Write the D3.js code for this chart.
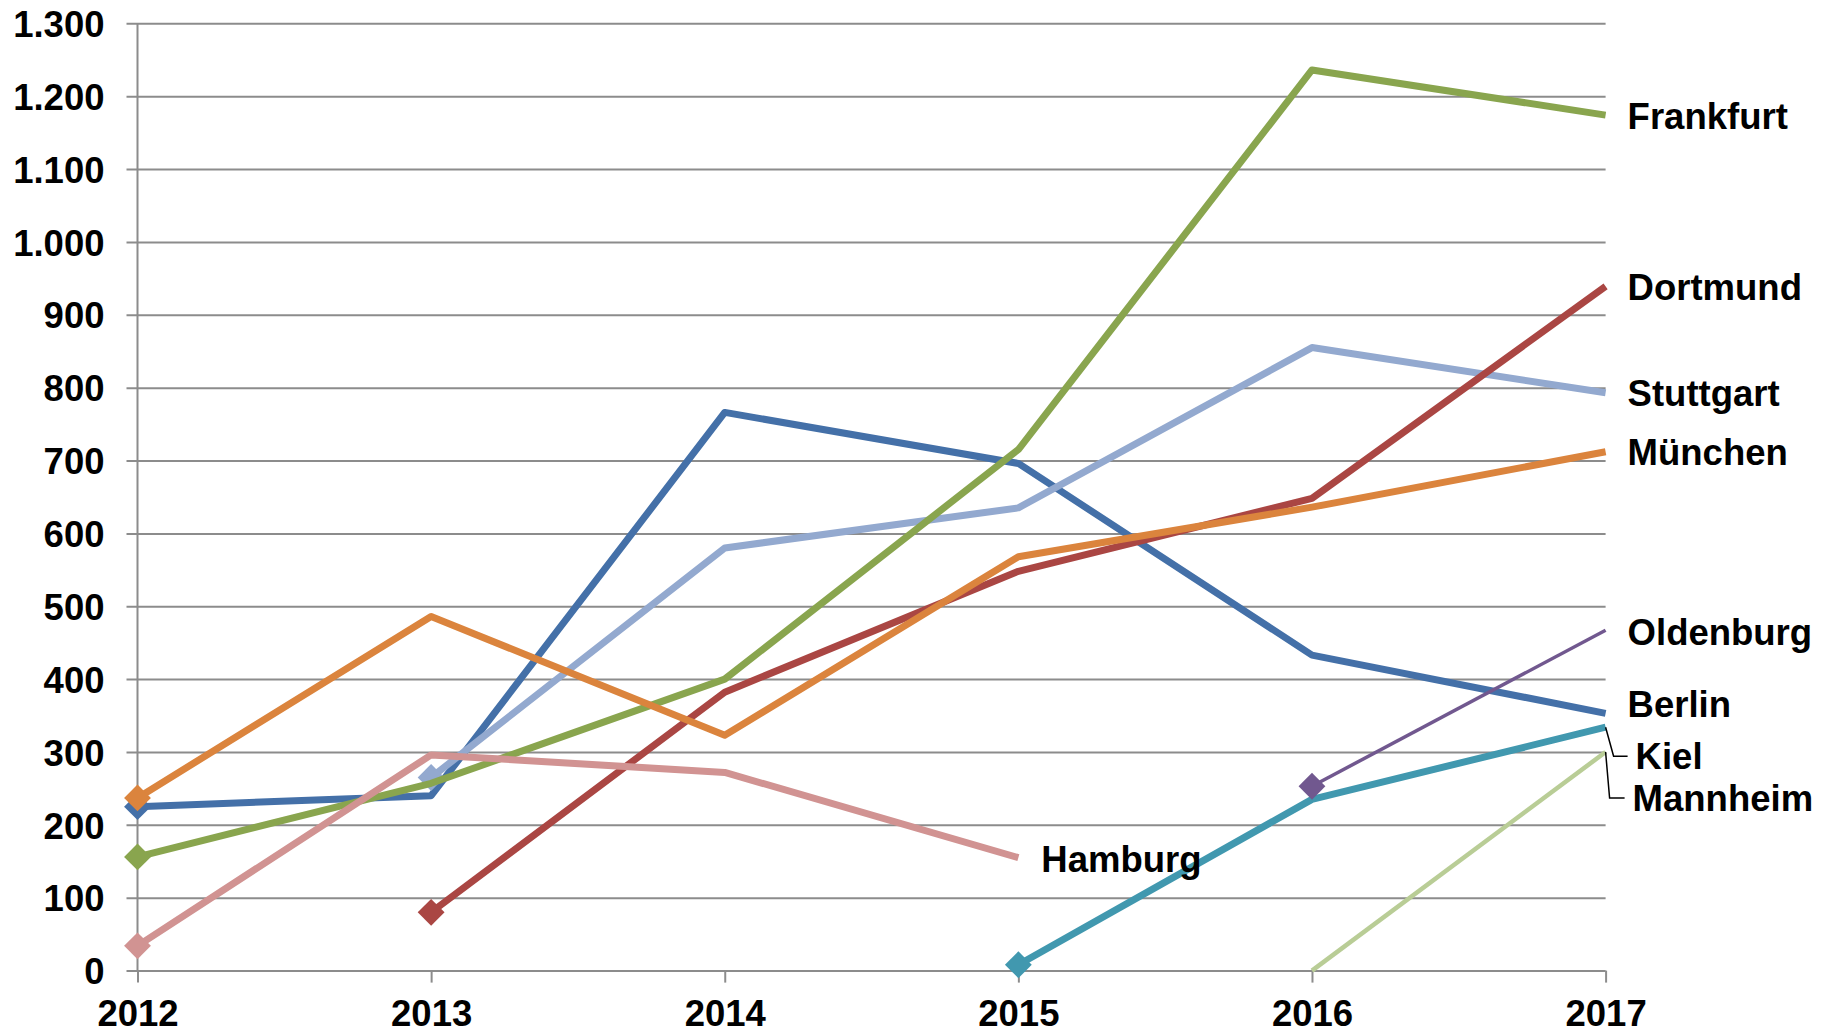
<!DOCTYPE html>
<html>
<head>
<meta charset="utf-8">
<script src="https://cdn.jsdelivr.net/npm/d3@7"></script>
<style>
  body { margin: 0; background: #fff; }
  text { font-family: "Liberation Sans", Arial, sans-serif; font-weight: bold; fill: #000; }
</style>
</head>
<body>
<div class="chart"></div>
<script>
// values per year, null = no value
const years = [2012, 2013, 2014, 2015, 2016, 2017];
const yTicks = [0, 100, 200, 300, 400, 500, 600, 700, 800, 900, 1000, 1100, 1200, 1300];

const berlin    = [225, 240, 766, 696, 433, 353];
const stuttgart = [null, 265, 580, 635, 855, 793];
const frankfurt = [156, 257, 400, 715, 1236, 1174];
const dortmund  = [null, 80, 382, 548, 648, 939];
const muenchen  = [237, 486, 323, 568, 636, 712];
const hamburg   = [34, 296, 272, 155, null, null];
const kiel      = [null, null, null, 8, 235, 334];
const oldenburg = [null, null, null, null, 253, 467];
const mannheim  = [null, null, null, null, 0, 300];

const names  = ["Berlin", "Stuttgart", "Frankfurt", "Dortmund", "München", "Hamburg", "Kiel", "Oldenburg", "Mannheim"];
const values = [berlin, stuttgart, frankfurt, dortmund, muenchen, hamburg, kiel, oldenburg, mannheim];
const colors = ["#4470A8", "#93A9CF", "#89A54E", "#AA4643", "#DB843D", "#D19392", "#4198AF", "#71588F", "#B9CD96"];
const widths = [7, 7, 7, 7, 7, 7, 7, 3.5, 4.5];
const marker = [true, true, true, true, true, true, true, true, false];
// label offsets (px) from the last point
const labelDx = [22, 22, 22, 22, 22, 23, 30, 22, 27];
const labelDy = [-10, 0, 1, 1, 0, 1, 29, 2, 46];
const leader  = [false, false, false, false, false, false, true, false, true];

const W = 1827, H = 1032;
const plotLeft = 137.5, plotRight = 1605.6, plotTop = 23.3, plotBottom = 970.6;
const fs = 36.5;

const svg = d3.select('.chart').append('svg')
  .attr('width', W).attr('height', H);

const x = d3.scalePoint().domain(years).range([plotLeft, plotRight]);
const y = d3.scaleLinear().domain([0, 1300]).range([plotBottom, plotTop]);

// horizontal gridlines + y ticks
const yAxis = d3.axisLeft(y)
  .tickValues(yTicks)
  .tickSize(-(plotRight - plotLeft + 11))
  .tickFormat(d => d3.format(',')(d).replace(/,/g, '.'));
const gy = svg.append('g')
  .attr('transform', `translate(${plotLeft - 11},0)`)
  .call(yAxis);
gy.select('.domain').remove();
gy.selectAll('.tick line').attr('stroke', '#8c8c8c').attr('stroke-width', 2);
gy.selectAll('.tick text')
  .attr('x', -22)
  .attr('dy', '0.36em')
  .attr('font-size', fs);

// vertical axis line
svg.append('line')
  .attr('x1', plotLeft).attr('x2', plotLeft)
  .attr('y1', plotTop).attr('y2', plotBottom)
  .attr('stroke', '#8c8c8c').attr('stroke-width', 2);

// x axis ticks + labels
const xAxis = d3.axisBottom(x).tickSize(12).tickPadding(17);
const gx = svg.append('g')
  .attr('transform', `translate(0,${plotBottom})`)
  .call(xAxis);
gx.select('.domain').remove();
gx.selectAll('.tick line').attr('stroke', '#8c8c8c').attr('stroke-width', 2);
gx.selectAll('.tick text').attr('font-size', fs).attr('dy', '0.72em');

const line = d3.line()
  .defined(d => d.v != null)
  .x(d => x(d.year))
  .y(d => y(d.v));

const series = names.map((name, i) => ({
  name, i,
  pts: years.map((year, j) => ({year, v: values[i][j]}))
}));

series.forEach(s => {
  const i = s.i;
  svg.append('path')
    .datum(s.pts)
    .attr('d', line)
    .attr('fill', 'none')
    .attr('stroke', colors[i])
    .attr('stroke-width', widths[i])
    .attr('stroke-linejoin', 'round');

  const first = s.pts.find(d => d.v != null);
  if (marker[i]) {
    svg.append('path')
      .attr('d', d3.symbol().type(d3.symbolSquare).size(360)())
      .attr('transform', `translate(${x(first.year)},${y(first.v)}) rotate(45)`)
      .attr('fill', colors[i]);
  }
});

// labels at line ends
series.forEach(s => {
  const i = s.i;
  const pts = s.pts.filter(d => d.v != null);
  const last = pts[pts.length - 1];
  const px = x(last.year), py = y(last.v);
  const ly = py + labelDy[i];
  if (leader[i]) {
    svg.append('path')
      .attr('d', `M${px},${py} L${px + (i === 6 ? 8 : 4)},${ly} L${px + labelDx[i] - 8},${ly}`)
      .attr('fill', 'none')
      .attr('stroke', '#000')
      .attr('stroke-width', 1.5);
  }
  svg.append('text')
    .attr('x', px + labelDx[i])
    .attr('y', ly)
    .attr('dy', '0.36em')
    .attr('font-size', fs)
    .text(s.name);
});
</script>
</body>
</html>
